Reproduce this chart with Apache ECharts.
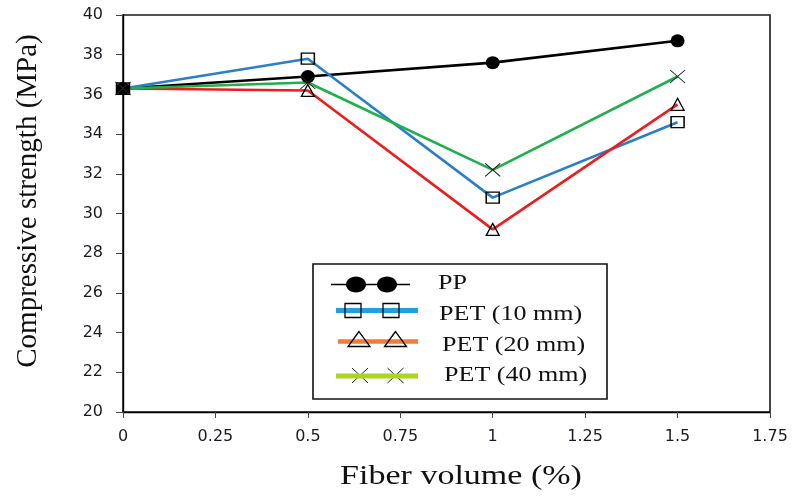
<!DOCTYPE html>
<html>
<head>
<meta charset="utf-8">
<title>Compressive strength vs fiber volume</title>
<script src="https://cdn.jsdelivr.net/npm/echarts@6/dist/echarts.min.js"></script>
<style>
  html, body { margin: 0; padding: 0; background: #fff; }
  #chart { width: 795px; height: 497px; }
</style>
</head>
<body>
<div id="chart"></div>
<script>
// Fiber volume fractions (%) tested
const fiberVolume = [0, 0.5, 1, 1.5];

// Compressive strength (MPa) per fiber type
const ppStrength    = [36.3, 36.9, 37.6, 38.7];
const pet10Strength = [36.3, 37.8, 30.8, 34.6];
const pet20Strength = [36.3, 36.2, 29.2, 35.5];
const pet40Strength = [36.3, 36.6, 32.2, 36.9];

const seriesNames = ['PP', 'PET (10 mm)', 'PET (20 mm)', 'PET (40 mm)'];

// Axis settings
const xTicks = { min: 0, max: 1.75, interval: 0.25 };
const yTicks = { min: 20, max: 40, interval: 2 };

const crossPath = 'path://M0,0L10,10M0,10L10,0';

function pairs(ys) {
  return fiberVolume.map((x, i) => [x, ys[i]]);
}

const seriesDefs = [
  { name: seriesNames[0], data: ppStrength, line: '#000000', legendLine: '#000000', legendWidth: 1.6,
    symbol: 'circle', size: [14, 13], fill: '#000000', border: '#000000', bw: 0 },
  { name: seriesNames[1], data: pet10Strength, line: '#2a7fcc', legendLine: '#1ea0e2', legendWidth: 5,
    symbol: 'rect', size: [13, 11], fill: 'rgba(0,0,0,0)', border: '#000000', bw: 1.4 },
  { name: seriesNames[2], data: pet20Strength, line: '#ee1d1d', legendLine: '#f47b36', legendWidth: 4.6,
    symbol: 'triangle', size: [13, 12], fill: 'rgba(0,0,0,0)', border: '#000000', bw: 1.3 },
  { name: seriesNames[3], data: pet40Strength, line: '#1faf4c', legendLine: '#a8d81e', legendWidth: 5,
    symbol: crossPath, size: [15, 13], fill: 'rgba(0,0,0,0)', border: '#222222', bw: 1 }
];

const series = seriesDefs.map(d => ({
  name: d.name,
  type: 'line',
  data: pairs(d.data),
  symbol: d.symbol,
  symbolSize: d.size,
  showSymbol: true,
  lineStyle: { color: d.line, width: 2.6 },
  itemStyle: { color: d.fill, borderColor: d.border, borderWidth: d.bw },
  emphasis: { disabled: true },
  animation: false
}));

// Hand-built legend box: a line with two markers per entry
const legendBox = { x: 313, y: 264, w: 294, h: 135 };
const legendRows = [284.5, 310.5, 341.5, 376];
const legendTextX = [438, 439, 442, 444];
const legendTextY = [283, 314, 345, 375];
const legendLineX = [[331, 410], [336, 418], [338, 418], [336, 418]];
const markerXs = [[356, 387], [353, 391], [359, 395.5], [360, 395.5]];

const graphics = [];
graphics.push({
  type: 'rect', silent: true, z: 10,
  shape: { x: legendBox.x, y: legendBox.y, width: legendBox.w, height: legendBox.h },
  style: { fill: '#ffffff', stroke: '#111111', lineWidth: 1.6 }
});

seriesDefs.forEach((d, i) => {
  const y = legendRows[i];
  graphics.push({
    type: 'line', silent: true, z: 11,
    shape: { x1: legendLineX[i][0], y1: y, x2: legendLineX[i][1], y2: y },
    style: { stroke: d.legendLine, lineWidth: d.legendWidth }
  });
  markerXs[i].forEach(mx => {
    if (i === 0) {
      graphics.push({ type: 'ellipse', silent: true, z: 12,
        shape: { cx: mx, cy: y, rx: 10, ry: 8 }, style: { fill: '#000' } });
    } else if (i === 1) {
      graphics.push({ type: 'rect', silent: true, z: 12,
        shape: { x: mx - 8, y: y - 7, width: 16, height: 14 },
        style: { fill: 'rgba(0,0,0,0)', stroke: '#000', lineWidth: 1.3 } });
    } else if (i === 2) {
      graphics.push({ type: 'polygon', silent: true, z: 12,
        shape: { points: [[mx, y - 10], [mx - 11, y + 5], [mx + 11, y + 5]] },
        style: { fill: 'rgba(0,0,0,0)', stroke: '#000', lineWidth: 1.3 } });
    } else {
      graphics.push({ type: 'polyline', silent: true, z: 10.5,
        shape: { points: [[mx - 8, y - 8], [mx + 8, y + 7]] },
        style: { stroke: '#222', lineWidth: 1 } });
      graphics.push({ type: 'polyline', silent: true, z: 10.5,
        shape: { points: [[mx - 8, y + 7], [mx + 8, y - 8]] },
        style: { stroke: '#222', lineWidth: 1 } });
    }
  });
  graphics.push({
    type: 'text', silent: true, z: 12,
    x: legendTextX[i], y: legendTextY[i], scaleX: 1.24,
    style: {
      text: d.name, fill: '#111111',
      font: '21px "Liberation Serif", "Times New Roman", serif',
      align: 'left', verticalAlign: 'middle'
    }
  });
});

// Axis titles
graphics.push({
  type: 'text', silent: true,
  x: 461, y: 477, scaleX: 1.26,
  style: {
    text: 'Fiber volume (%)', fill: '#111111',
    font: '27px "Liberation Serif", "Times New Roman", serif',
    align: 'center', verticalAlign: 'middle'
  }
});
graphics.push({
  type: 'text', silent: true,
  x: 28, y: 201, rotation: Math.PI / 2,
  style: {
    text: 'Compressive strength (MPa)', fill: '#111111',
    font: '29px "Liberation Serif", "Times New Roman", serif',
    align: 'center', verticalAlign: 'middle'
  }
});

const tickFont = { fontFamily: '"DejaVu Sans", Verdana, sans-serif', fontSize: 16, color: '#1a1a22' };

const option = {
  backgroundColor: '#ffffff',
  animation: false,
  grid: {
    left: 123, right: 25, top: 15, bottom: 85,
    show: true, borderColor: '#1a1a1a', borderWidth: 1.6, backgroundColor: 'transparent'
  },
  xAxis: {
    type: 'value',
    min: xTicks.min, max: xTicks.max, interval: xTicks.interval,
    axisLine: { show: true, lineStyle: { color: '#000', width: 1.4 } },
    axisTick: { show: true, length: 6, lineStyle: { color: '#444' } },
    axisLabel: Object.assign({ margin: 17 }, tickFont),
    splitLine: { show: false }
  },
  yAxis: {
    type: 'value',
    min: yTicks.min, max: yTicks.max, interval: yTicks.interval,
    axisLine: { show: true, lineStyle: { color: '#000', width: 1.4 } },
    axisTick: { show: true, length: 7, lineStyle: { color: '#444' } },
    axisLabel: Object.assign({ margin: 20 }, tickFont),
    splitLine: { show: false }
  },
  legend: { show: false },
  tooltip: { show: false },
  series: series,
  graphic: graphics
};

const chart = echarts.init(document.getElementById('chart'), null, { renderer: 'canvas' });
chart.setOption(option);
</script>
</body>
</html>
